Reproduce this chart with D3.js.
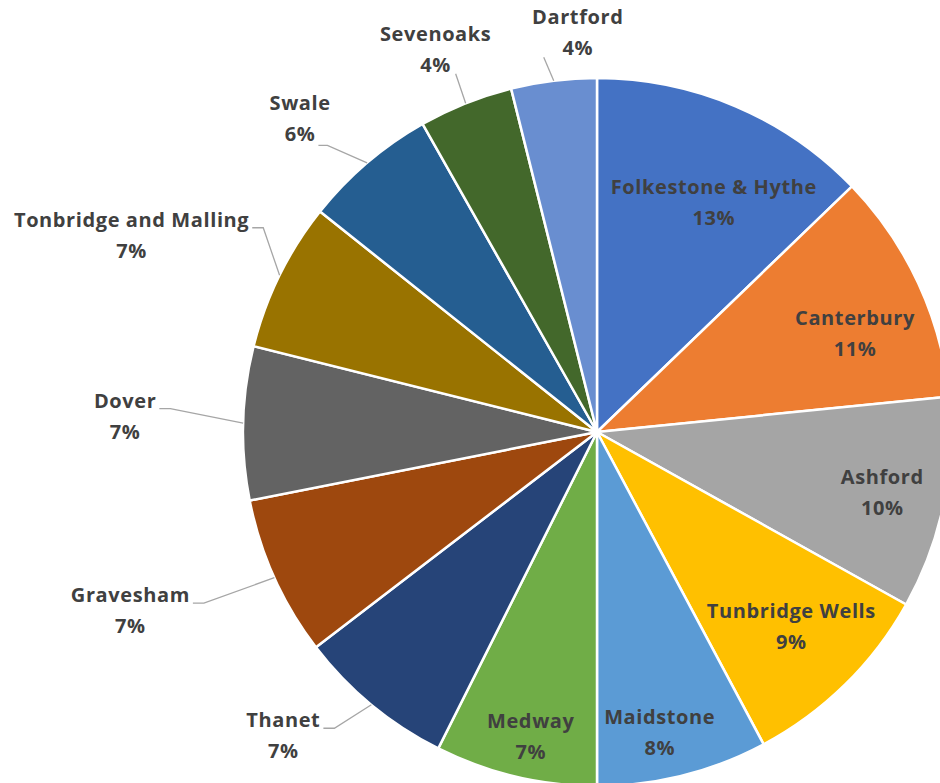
<!DOCTYPE html>
<html>
<head>
<meta charset="utf-8">
<script src="https://cdn.jsdelivr.net/npm/d3@7"></script>
<style>
  body { margin: 0; background: #fff; }
  text { font-family: 'Open Sans', 'Liberation Sans', sans-serif; font-weight: 700; fill: #404040; }
</style>
</head>
<body>
<div id="pie"></div>
<script>
// districts, clockwise from 12 o'clock
const districts = ['Folkestone & Hythe', 'Canterbury', 'Ashford', 'Tunbridge Wells', 'Maidstone',
  'Medway', 'Thanet', 'Gravesham', 'Dover', 'Tonbridge and Malling', 'Swale', 'Sevenoaks', 'Dartford']
const shares = [12.8, 10.6, 9.7, 9.1, 7.8, 7.4, 7.2, 7.3, 7.0, 6.8, 6.1, 4.3, 3.9]
const sliceColors = ['#4472C4', '#ED7D31', '#A5A5A5', '#FFC000', '#5B9BD5', '#70AD47', '#264478',
  '#9E480E', '#636363', '#997300', '#255E91', '#43682B', '#698ED0']
const outside = ['Thanet', 'Gravesham', 'Dover', 'Tonbridge and Malling', 'Swale', 'Sevenoaks', 'Dartford']

// label nudges (inside: from 0.8r on the mid angle, outside: from the arc point)
const nudge = {
  'Folkestone & Hythe': [6, 31], 'Canterbury': [1, 20], 'Ashford': [8, 3], 'Tunbridge Wells': [-4, -8],
  'Maidstone': [-6, 26], 'Medway': [-1, 29],
  'Thanet': [-88, 31], 'Gravesham': [-144, 33], 'Dover': [-118, -7], 'Tonbridge and Malling': [-148, -40],
  'Swale': [-67, -44], 'Sevenoaks': [-30, -54], 'Dartford': [24, -48]
}

const width = 940
const height = 783
const cx = 597
const cy = 432
const radius = 354
const lineGap = 31

const svg = d3.select('#pie').append('svg')
  .attr('width', width)
  .attr('height', height)

const g = svg.append('g')
  .attr('transform', `translate(${cx}, ${cy})`)

const data = districts.map((d, i) => ({ name: d, value: shares[i], color: sliceColors[i] }))
const total = d3.sum(shares)
const fmt = d3.format('.0%')

const pie = d3.pie().sort(null).value(d => d.value)
const arc = d3.arc().innerRadius(0).outerRadius(radius)
const arcs = pie(data)

g.selectAll('path')
  .data(arcs)
  .enter().append('path')
  .attr('d', arc)
  .style('fill', d => d.data.color)
  .style('stroke', '#fff')
  .style('stroke-width', 2.5)
  .style('stroke-linejoin', 'round')

const polar = (a, r) => [r * Math.sin(a), -r * Math.cos(a)]

const labels = g.selectAll('.lbl')
  .data(arcs)
  .enter().append('text')
  .attr('class', 'lbl')
  .attr('text-anchor', 'middle')
  .style('font-size', '20px')
  .style('letter-spacing', '0.6px')
  .each(function (d) {
    const mid = (d.startAngle + d.endAngle) / 2
    const isOut = outside.includes(d.data.name)
    const base = polar(mid, isOut ? radius : radius * 0.8)
    const n = nudge[d.data.name]
    d.lx = base[0] + n[0]
    d.ly = base[1] + n[1]
    d.ax = polar(mid, radius)
    d.isOut = isOut
  })

labels.append('tspan')
  .attr('x', d => d.lx)
  .attr('y', d => d.ly - lineGap / 2)
  .attr('dy', '0.35em')
  .text(d => d.data.name)

labels.append('tspan')
  .attr('x', d => d.lx)
  .attr('y', d => d.ly + lineGap / 2)
  .attr('dy', '0.35em')
  .text(d => fmt(d.data.value / total))

// leader lines for the outside labels
labels.filter(d => d.isOut).each(function (d) {
  const spans = d3.select(this).selectAll('tspan').nodes()
  const w0 = spans[0].getComputedTextLength()
  const w1 = spans[1].getComputedTextLength()
  let pts
  if (d.data.name === 'Sevenoaks' || d.data.name === 'Dartford') {
    const sx = d.data.name === 'Sevenoaks' ? d.lx + 20 : d.lx - 34
    pts = [[sx, d.ly + lineGap / 2 + 9], d.ax]
  } else if (d.data.name === 'Swale') {
    const sx = d.lx + w1 / 2 + 3
    const sy = d.ly + lineGap / 2 + 11
    pts = [[sx, sy], [sx + 9, sy], d.ax]
  } else {
    const sx = d.lx + w0 / 2 + 3
    const sy = d.ly - lineGap / 2 + 8
    pts = [[sx, sy], [sx + 11, sy], d.ax]
  }
  g.append('path')
    .attr('d', d3.line()(pts))
    .style('fill', 'none')
    .style('stroke', '#a6a6a6')
    .style('stroke-width', 1.3)
})
</script>
</body>
</html>
